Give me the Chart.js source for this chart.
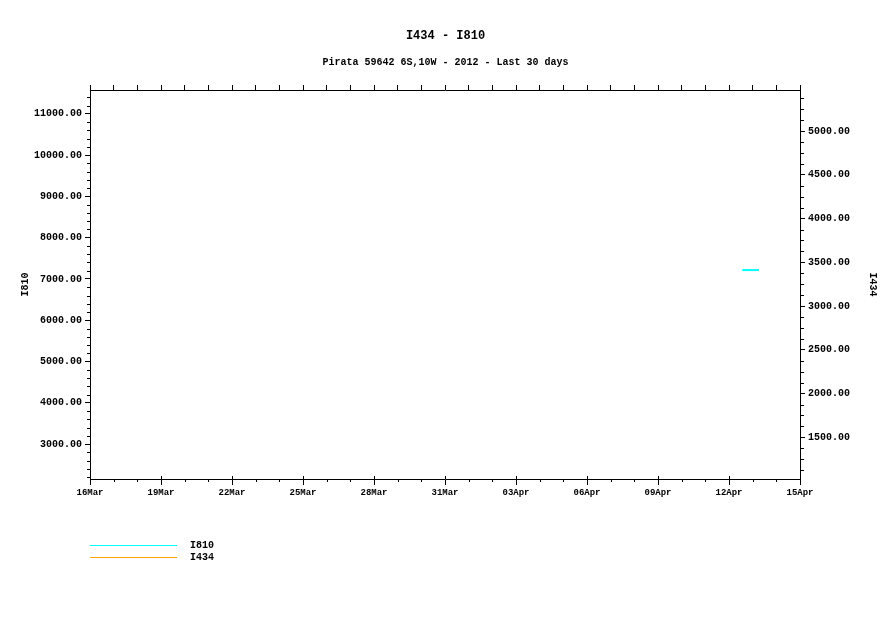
<!DOCTYPE html>
<html><head><meta charset="utf-8">
<script src="https://cdn.jsdelivr.net/npm/chart.js@4.4.1/dist/chart.umd.min.js"></script>
<style>html,body{margin:0;padding:0;background:#fff}canvas{display:block}</style>
</head><body>
<canvas id="c" width="891" height="630"></canvas>
<script>
// ---- data ----
const titleText = 'I434 - I810';
const subtitleText = 'Pirata 59642 6S,10W - 2012 - Last 30 days';
const dayTicks = [0, 3, 6, 9, 12, 15, 18, 21, 24, 27, 30];          // days since 16Mar2012
const dayLabels = ['16Mar', '19Mar', '22Mar', '25Mar', '28Mar', '31Mar', '03Apr', '06Apr', '09Apr', '12Apr', '15Apr'];
const leftTicks = [3000, 4000, 5000, 6000, 7000, 8000, 9000, 10000, 11000];
const leftTickLabels = ['3000.00', '4000.00', '5000.00', '6000.00', '7000.00', '8000.00', '9000.00', '10000.00', '11000.00'];
const rightTicks = [1500, 2000, 2500, 3000, 3500, 4000, 4500, 5000];
const rightTickLabels = ['1500.00', '2000.00', '2500.00', '3000.00', '3500.00', '4000.00', '4500.00', '5000.00'];
const i810Days = [27.56, 28.27];
const i810Values = [7216, 7216];
const i434Days = [];
const i434Values = [];
const leftRange = [2155, 11578];
const rightRange = [1024, 5470];
const dayRange = [0, 30];

// ---- styles ----
const FONT = 'Liberation Mono';
const BLACK = '#000000';
const CYAN = '#00ffff';
const ORANGE = '#ffa500';

const extras = {
  id: 'extras',
  afterDraw(chart) {
    const ctx = chart.ctx;
    const x = chart.scales.x, y = chart.scales.y, y1 = chart.scales.y1;
    const a = chart.chartArea;
    ctx.save();
    ctx.strokeStyle = BLACK;
    ctx.lineWidth = 1;
    ctx.beginPath();
    // bottom minor day ticks and inward part of major ticks
    for (let d = dayRange[0]; d <= dayRange[1]; d++) {
      const px = Math.round(x.getPixelForValue(d)) + 0.5;
      if (dayTicks.includes(d)) {
        ctx.moveTo(px, a.bottom - 3); ctx.lineTo(px, a.bottom);
      } else {
        ctx.moveTo(px, a.bottom); ctx.lineTo(px, a.bottom + 3);
      }
    }
    // left minor ticks
    for (let v = 2200; v <= leftRange[1]; v += 200) {
      if (v % 1000 === 0) continue;
      const py = Math.round(y.getPixelForValue(v)) + 0.5;
      ctx.moveTo(a.left - 3, py); ctx.lineTo(a.left, py);
    }
    // right minor ticks
    for (let v = 1125; v <= rightRange[1]; v += 125) {
      if (v % 500 === 0) continue;
      const py = Math.round(y1.getPixelForValue(v)) + 0.5;
      ctx.moveTo(a.right, py); ctx.lineTo(a.right + 4, py);
    }
    ctx.stroke();
    // legend
    ctx.font = 'bold 10px "' + FONT + '"';
    ctx.textBaseline = 'middle';
    ctx.textAlign = 'left';
    chart.data.datasets.forEach((ds, i) => {
      const ly = 545 + i * 12 + 0.5;
      ctx.strokeStyle = ds.borderColor;
      ctx.beginPath(); ctx.moveTo(90, ly); ctx.lineTo(177, ly); ctx.stroke();
      ctx.fillStyle = BLACK;
      ctx.fillText(ds.label, 190, ly);
    });
    ctx.restore();
  }
};

const tickFont = { family: FONT, size: 10, weight: 'bold' };

new Chart(document.getElementById('c'), {
  type: 'line',
  data: {
    datasets: [
      { label: 'I810', data: i810Days.map((d, i) => ({ x: d, y: i810Values[i] })),
        borderColor: CYAN, backgroundColor: CYAN, borderWidth: 2, pointRadius: 0, xAxisID: 'x', yAxisID: 'y' },
      { label: 'I434', data: i434Days.map((d, i) => ({ x: d, y: i434Values[i] })),
        borderColor: ORANGE, backgroundColor: ORANGE, borderWidth: 2, pointRadius: 0, xAxisID: 'x', yAxisID: 'y1' }
    ]
  },
  options: {
    responsive: false, animation: false, devicePixelRatio: 1,
    layout: { padding: 0 },
    plugins: {
      legend: { display: false }, tooltip: { enabled: false },
      title: { display: true, text: titleText, color: BLACK,
        font: { family: FONT, size: 12, weight: 'bold', lineHeight: 1 }, padding: { top: 30, bottom: 0 } },
      subtitle: { display: true, text: subtitleText, color: BLACK,
        font: { family: FONT, size: 10, weight: 'bold', lineHeight: 1 }, padding: { top: 15, bottom: 0 } }
    },
    scales: {
      x: {
        type: 'linear', position: 'bottom', min: dayRange[0], max: dayRange[1],
        afterBuildTicks: s => { s.ticks = dayTicks.map(v => ({ value: v })); },
        ticks: { callback: (v, i) => dayLabels[i], autoSkip: false, maxRotation: 0, color: BLACK,
          font: { family: FONT, size: 9, weight: 'bold' }, padding: 2 },
        grid: { drawOnChartArea: false, tickLength: 6, color: BLACK },
        border: { color: BLACK },
        afterFit: s => { s.height = 151; }
      },
      xTop: {
        type: 'linear', position: 'top', min: dayRange[0], max: dayRange[1],
        afterBuildTicks: s => { const t = []; for (let d = dayRange[0]; d <= dayRange[1]; d++) t.push({ value: d }); s.ticks = t; },
        ticks: { display: false },
        grid: { drawOnChartArea: false, tickLength: 5, color: BLACK },
        border: { color: BLACK },
        afterFit: s => { s.height = 23; }
      },
      y: {
        position: 'left', min: leftRange[0], max: leftRange[1],
        afterBuildTicks: s => { s.ticks = leftTicks.map(v => ({ value: v })); },
        ticks: { callback: (v, i) => leftTickLabels[i], autoSkip: false, color: BLACK, font: tickFont, padding: 3 },
        grid: { drawOnChartArea: false, tickLength: 5, color: BLACK },
        border: { color: BLACK },
        title: { display: true, text: 'I810', color: BLACK, font: { family: FONT, size: 10, weight: 'bold', lineHeight: 1 }, padding: { top: 20, bottom: 0 } },
        afterFit: s => { s.width = 90; }
      },
      y1: {
        position: 'right', min: rightRange[0], max: rightRange[1],
        afterBuildTicks: s => { s.ticks = rightTicks.map(v => ({ value: v })); },
        ticks: { callback: (v, i) => rightTickLabels[i], autoSkip: false, color: BLACK, font: tickFont, padding: 3 },
        grid: { drawOnChartArea: false, tickLength: 5, color: BLACK },
        border: { color: BLACK },
        title: { display: true, text: 'I434', color: BLACK, font: { family: FONT, size: 10, weight: 'bold', lineHeight: 1 }, padding: { top: 13, bottom: 0 } },
        afterFit: s => { s.width = 91; }
      }
    }
  },
  plugins: [extras]
});
</script>
</body></html>
